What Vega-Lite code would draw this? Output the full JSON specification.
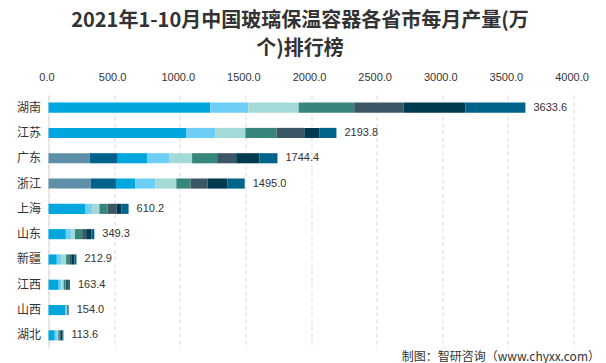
{
  "$schema": "https://vega.github.io/schema/vega-lite/v6.json",
  "width": 525,
  "height": 253,
  "autosize": "none",
  "padding": {"left": 48.5, "top": 95, "right": 32.5, "bottom": 15},
  "background": "white",
  "title": {
    "text": ["2021年1-10月中国玻璃保温容器各省市每月产量(万", "个)排行榜"],
    "font": "Noto Sans CJK SC",
    "fontSize": 20,
    "fontWeight": "bold",
    "color": "#333333",
    "lineHeight": 28,
    "anchor": "middle",
    "frame": "group",
    "dx": -11,
    "offset": 12
  },
  "data": {
    "values": [
      {"province": "湖南", "month": "4月", "idx": 3, "value": 1232},
      {"province": "湖南", "month": "5月", "idx": 4, "value": 291},
      {"province": "湖南", "month": "6月", "idx": 5, "value": 383},
      {"province": "湖南", "month": "7月", "idx": 6, "value": 423},
      {"province": "湖南", "month": "8月", "idx": 7, "value": 378},
      {"province": "湖南", "month": "9月", "idx": 8, "value": 469.6},
      {"province": "湖南", "month": "10月", "idx": 9, "value": 457},
      {"province": "江苏", "month": "4月", "idx": 3, "value": 1048},
      {"province": "江苏", "month": "5月", "idx": 4, "value": 222},
      {"province": "江苏", "month": "6月", "idx": 5, "value": 230},
      {"province": "江苏", "month": "7月", "idx": 6, "value": 237},
      {"province": "江苏", "month": "8月", "idx": 7, "value": 211.8},
      {"province": "江苏", "month": "9月", "idx": 8, "value": 117},
      {"province": "江苏", "month": "10月", "idx": 9, "value": 128},
      {"province": "广东", "month": "1-2月", "idx": 1, "value": 314},
      {"province": "广东", "month": "3月", "idx": 2, "value": 214},
      {"province": "广东", "month": "4月", "idx": 3, "value": 222},
      {"province": "广东", "month": "5月", "idx": 4, "value": 168},
      {"province": "广东", "month": "6月", "idx": 5, "value": 176},
      {"province": "广东", "month": "7月", "idx": 6, "value": 191},
      {"province": "广东", "month": "8月", "idx": 7, "value": 145},
      {"province": "广东", "month": "9月", "idx": 8, "value": 176.4},
      {"province": "广东", "month": "10月", "idx": 9, "value": 138},
      {"province": "浙江", "month": "1-2月", "idx": 1, "value": 322},
      {"province": "浙江", "month": "3月", "idx": 2, "value": 192},
      {"province": "浙江", "month": "4月", "idx": 3, "value": 146},
      {"province": "浙江", "month": "5月", "idx": 4, "value": 153},
      {"province": "浙江", "month": "6月", "idx": 5, "value": 161},
      {"province": "浙江", "month": "7月", "idx": 6, "value": 108},
      {"province": "浙江", "month": "8月", "idx": 7, "value": 130},
      {"province": "浙江", "month": "9月", "idx": 8, "value": 153},
      {"province": "浙江", "month": "10月", "idx": 9, "value": 130},
      {"province": "上海", "month": "4月", "idx": 3, "value": 278},
      {"province": "上海", "month": "5月", "idx": 4, "value": 55},
      {"province": "上海", "month": "6月", "idx": 5, "value": 55},
      {"province": "上海", "month": "7月", "idx": 6, "value": 62},
      {"province": "上海", "month": "8月", "idx": 7, "value": 69},
      {"province": "上海", "month": "9月", "idx": 8, "value": 38.2},
      {"province": "上海", "month": "10月", "idx": 9, "value": 53},
      {"province": "山东", "month": "4月", "idx": 3, "value": 132},
      {"province": "山东", "month": "5月", "idx": 4, "value": 39},
      {"province": "山东", "month": "6月", "idx": 5, "value": 31},
      {"province": "山东", "month": "7月", "idx": 6, "value": 54.3},
      {"province": "山东", "month": "8月", "idx": 7, "value": 31},
      {"province": "山东", "month": "9月", "idx": 8, "value": 39},
      {"province": "山东", "month": "10月", "idx": 9, "value": 23},
      {"province": "新疆", "month": "4月", "idx": 3, "value": 63.2},
      {"province": "新疆", "month": "5月", "idx": 4, "value": 31.5},
      {"province": "新疆", "month": "6月", "idx": 5, "value": 39.4},
      {"province": "新疆", "month": "7月", "idx": 6, "value": 23.6},
      {"province": "新疆", "month": "8月", "idx": 7, "value": 15.8},
      {"province": "新疆", "month": "9月", "idx": 8, "value": 23.6},
      {"province": "新疆", "month": "10月", "idx": 9, "value": 15.8},
      {"province": "江西", "month": "4月", "idx": 3, "value": 78},
      {"province": "江西", "month": "5月", "idx": 4, "value": 20},
      {"province": "江西", "month": "6月", "idx": 5, "value": 17},
      {"province": "江西", "month": "7月", "idx": 6, "value": 15},
      {"province": "江西", "month": "8月", "idx": 7, "value": 12},
      {"province": "江西", "month": "9月", "idx": 8, "value": 12},
      {"province": "江西", "month": "10月", "idx": 9, "value": 9.4},
      {"province": "山西", "month": "4月", "idx": 3, "value": 130},
      {"province": "山西", "month": "5月", "idx": 4, "value": 5},
      {"province": "山西", "month": "6月", "idx": 5, "value": 4},
      {"province": "山西", "month": "7月", "idx": 6, "value": 4},
      {"province": "山西", "month": "8月", "idx": 7, "value": 3},
      {"province": "山西", "month": "9月", "idx": 8, "value": 4},
      {"province": "山西", "month": "10月", "idx": 9, "value": 4},
      {"province": "湖北", "month": "4月", "idx": 3, "value": 48},
      {"province": "湖北", "month": "5月", "idx": 4, "value": 16},
      {"province": "湖北", "month": "6月", "idx": 5, "value": 10},
      {"province": "湖北", "month": "7月", "idx": 6, "value": 12},
      {"province": "湖北", "month": "8月", "idx": 7, "value": 8},
      {"province": "湖北", "month": "9月", "idx": 8, "value": 12},
      {"province": "湖北", "month": "10月", "idx": 9, "value": 7.6}
    ]
  },
  "encoding": {
    "y": {
      "field": "province",
      "type": "nominal",
      "sort": ["湖南", "江苏", "广东", "浙江", "上海", "山东", "新疆", "江西", "山西", "湖北"],
      "scale": {"paddingInner": 0.6, "paddingOuter": 0.3},
      "axis": {
        "title": null,
        "ticks": false,
        "labelPadding": 8,
        "labelFont": "Noto Sans CJK SC",
        "labelFontSize": 12,
        "labelColor": "#333333",
        "domain": true,
        "domainColor": "#d9d9d9",
        "grid": false
      }
    }
  },
  "layer": [
    {
      "mark": {"type": "bar"},
      "encoding": {
        "x": {
          "field": "value",
          "type": "quantitative",
          "stack": "zero",
          "scale": {"domain": [0, 4000], "nice": false},
          "axis": {
            "orient": "top",
            "title": null,
            "values": [0, 500, 1000, 1500, 2000, 2500, 3000, 3500, 4000],
            "format": ".1f",
            "ticks": false,
            "domain": false,
            "labelFlush": false,
            "labelOffset": -2,
            "labelPadding": 13,
            "labelFont": "Liberation Sans",
            "labelFontSize": 11,
            "labelColor": "#333333",
            "grid": true,
            "gridColor": "#d9d9d9",
            "gridDash": [4, 3]
          }
        },
        "color": {
          "field": "month",
          "type": "nominal",
          "scale": {
            "domain": ["1-2月", "3月", "4月", "5月", "6月", "7月", "8月", "9月", "10月"],
            "range": ["#5e8fa9", "#00628b", "#00a6dd", "#6dcff6", "#a3d9d6", "#37867c", "#3b5766", "#003a50", "#00638a"]
          },
          "legend": null
        },
        "order": {"field": "idx", "type": "quantitative", "sort": "ascending"}
      }
    },
    {
      "mark": {"type": "text", "align": "left", "baseline": "middle", "dx": 8, "font": "Liberation Sans", "fontSize": 11, "color": "#333333"},
      "encoding": {
        "x": {
          "aggregate": "sum",
          "field": "value",
          "type": "quantitative",
          "axis": {
            "orient": "bottom",
            "title": "制图：智研咨询（www.chyxx.com）",
            "titleFont": "Noto Sans CJK SC",
            "titleFontSize": 12,
            "titleFontWeight": "normal",
            "titleColor": "#333333",
            "titleAnchor": "end",
            "titleAlign": "right",
            "titleX": 551,
            "titleY": 8,
            "titleBaseline": "middle",
            "labels": false,
            "ticks": false,
            "domain": false,
            "grid": false
          }
        },
        "text": {"aggregate": "sum", "field": "value", "type": "quantitative", "format": ".1f"}
      }
    }
  ],
  "resolve": {"axis": {"x": "independent"}},
  "config": {"view": {"stroke": null}}
}
